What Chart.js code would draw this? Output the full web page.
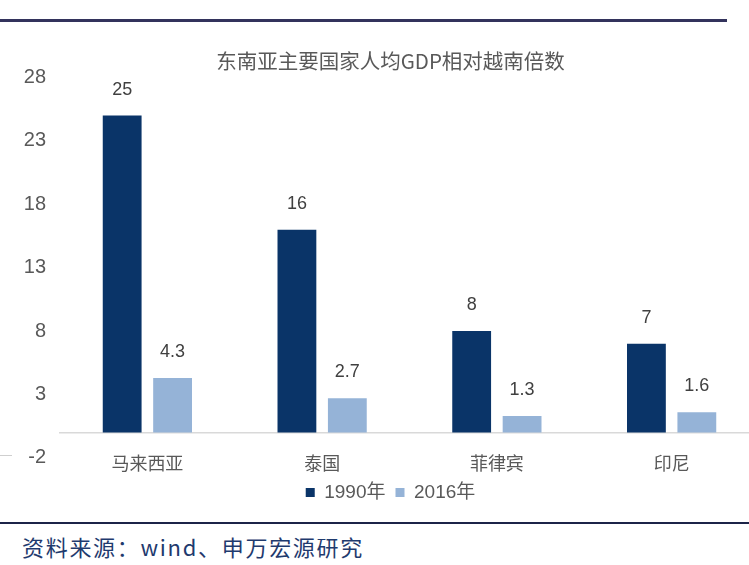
<!DOCTYPE html>
<html>
<head>
<meta charset="utf-8">
<script src="https://cdn.jsdelivr.net/npm/chart.js@4.4.1/dist/chart.umd.min.js"></script>
<style>
html, body { margin: 0; padding: 0; background: #fff; overflow: hidden; }
body { width: 749px; height: 565px; position: relative; }
#topLine { position: absolute; left: 0; top: 19px; width: 727px; height: 3px; background: #33335c; }
#wrap { position: absolute; left: 0; top: 0; width: 792px; height: 520px; }
#bottomLine { position: absolute; left: 0; top: 522px; width: 749px; height: 2px; background: #1c2448; }
#source { position: absolute; left: 22px; top: 530px; font: 22px "Noto Sans CJK SC"; color: #1f3a6e; letter-spacing: 1.7px; white-space: nowrap; }
#stub { position: absolute; left: 0; top: 455px; width: 12px; height: 1px; background: #cfcfcf; }
</style>
</head>
<body>
<div id="topLine"></div>
<div id="wrap"><canvas id="myChart"></canvas></div>
<div id="stub"></div>
<div id="bottomLine"></div>
<div id="source">资料来源：wind、申万宏源研究</div>
<script>
// データ
var countries = ['马来西亚', '泰国', '菲律宾', '印尼'];
var gdp1990 = [25, 16, 8, 7];
var gdp2016 = [4.3, 2.7, 1.3, 1.6];
var yTicks = [-2, 3, 8, 13, 18, 23, 28];

var numFont = '"Liberation Sans Narrow", "Liberation Sans", "Noto Sans CJK SC", sans-serif';

// 棒の上の数値
var barLabels = {
    id: 'barLabels',
    afterDatasetsDraw: function(chart) {
        var ctx = chart.ctx;
        ctx.save();
        ctx.font = '18px ' + numFont;
        ctx.fillStyle = '#404040';
        ctx.textAlign = 'center';
        ctx.textBaseline = 'middle';
        chart.data.datasets.forEach(function(ds, i) {
            chart.getDatasetMeta(i).data.forEach(function(bar, j) {
                ctx.fillText(String(ds.data[j]), bar.x, bar.y - 26);
            });
        });
        ctx.restore();
    }
};

var ctx = document.getElementById('myChart');
var chart = new Chart(ctx, {
    type: 'bar',
    data: {
        labels: countries,
        datasets: [{
            label: '1990年',
            data: gdp1990,
            backgroundColor: '#0a3468',
            categoryPercentage: 0.577,
            barPercentage: 0.77
        }, {
            label: '2016年',
            data: gdp2016,
            backgroundColor: '#95b3d7',
            categoryPercentage: 0.577,
            barPercentage: 0.77
        }]
    },
    options: {
        responsive: true,
        maintainAspectRatio: false,
        animation: false,
        layout: {
            padding: { left: 22, right: 33, top: 0, bottom: 8 }
        },
        plugins: {
            title: {
                display: true,
                text: '东南亚主要国家人均GDP相对越南倍数',
                color: '#595959',
                font: { family: '"Noto Sans CJK SC"', size: 20.5, weight: 'normal' },
                padding: { top: 49, bottom: 4 }
            },
            legend: {
                position: 'bottom',
                title: {
                    // 凡例の上の余白
                    display: true,
                    text: '',
                    font: { size: 1 },
                    padding: { top: 14, bottom: 0 }
                },
                labels: {
                    boxWidth: 9,
                    boxHeight: 9,
                    padding: 10,
                    color: '#595959',
                    font: { family: numFont, size: 19 }
                }
            },
            tooltip: { enabled: false }
        },
        scales: {
            x: {
                position: { y: 0 },
                grid: { display: false, drawTicks: false },
                border: { color: '#d9d9d9', width: 1.5 },
                ticks: {
                    padding: 20,
                    color: '#595959',
                    font: { family: '"Noto Sans CJK SC"', size: 18 }
                }
            },
            y: {
                min: -2,
                max: 28,
                afterBuildTicks: function(axis) {
                    axis.ticks = yTicks.map(function(v) { return { value: v }; });
                },
                afterFit: function(axis) {
                    axis.width = 38;
                },
                grid: { display: false, drawTicks: false },
                border: { display: false },
                ticks: {
                    padding: 14,
                    color: '#595959',
                    font: { family: numFont, size: 20 }
                }
            }
        }
    },
    plugins: [barLabels]
});
</script>
</body>
</html>
